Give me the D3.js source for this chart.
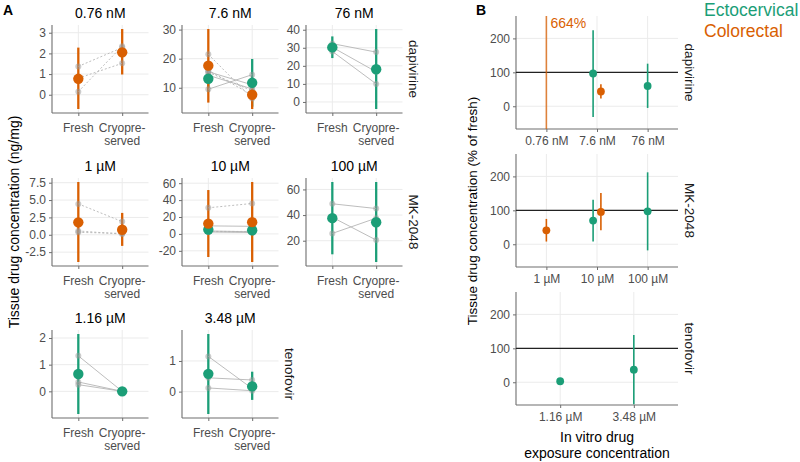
<!DOCTYPE html>
<html><head><meta charset="utf-8">
<script src="https://cdn.jsdelivr.net/npm/d3@7"></script>
<style>body{margin:0;background:#fff} svg{font-family:"Liberation Sans",Arial,Helvetica,sans-serif}</style>
</head><body><svg id="c" width="800" height="462"></svg>
<script>
// ---------- data ----------
const tissues = ["Ectocervical","Colorectal"];
const tissueColors = ["#1B9E77","#D95F02"];
const drugs = ["dapivirine","MK-2048","tenofovir"];
const concs = [["0.76 nM","7.6 nM","76 nM"],["1 µM","10 µM","100 µM"],["1.16 µM","3.48 µM"]];
const conditions = ["Fresh","Cryopreserved"];
const conditionLabels = [["Fresh"],["Cryopre-","served"]];
const aTickLabels = [
  [["0","1","2","3"],["10","20","30"],["0","10","20","30","40"]],
  [["-2.5","0.0","2.5","5.0","7.5"],["-20","0","20","40","60"],["20","40","60"]],
  [["0","1","2"],["0","1"]]
];
// individual tissue donors: drug, concentration, tissue, fresh, cryopreserved
const subjects = [
  ["dapivirine","0.76 nM","Colorectal",1.37,2.28],
  ["dapivirine","0.76 nM","Colorectal",0.15,2.35],
  ["dapivirine","0.76 nM","Colorectal",0.80,1.52],
  ["dapivirine","7.6 nM","Ectocervical",15.5,11.0],
  ["dapivirine","7.6 nM","Ectocervical",9.5,14.5],
  ["dapivirine","7.6 nM","Ectocervical",14.3,9.6],
  ["dapivirine","7.6 nM","Colorectal",21.5,6.3],
  ["dapivirine","7.6 nM","Colorectal",16.0,7.5],
  ["dapivirine","7.6 nM","Colorectal",15.3,9.0],
  ["dapivirine","76 nM","Ectocervical",32.3,27.6],
  ["dapivirine","76 nM","Ectocervical",30.3,16.7],
  ["dapivirine","76 nM","Ectocervical",28.0,10.0],
  ["MK-2048","1 µM","Colorectal",4.45,1.9],
  ["MK-2048","1 µM","Colorectal",0.55,0.1],
  ["MK-2048","1 µM","Colorectal",0.35,0.2],
  ["MK-2048","10 µM","Colorectal",30.9,36.0],
  ["MK-2048","10 µM","Colorectal",3.0,2.9],
  ["MK-2048","10 µM","Colorectal",2.7,2.7],
  ["MK-2048","10 µM","Ectocervical",9.5,9.0],
  ["MK-2048","10 µM","Ectocervical",3.5,2.5],
  ["MK-2048","10 µM","Ectocervical",2.3,1.7],
  ["MK-2048","100 µM","Ectocervical",48.8,45.1],
  ["MK-2048","100 µM","Ectocervical",25.7,37.6],
  ["MK-2048","100 µM","Ectocervical",38.3,20.5],
  ["tenofovir","1.16 µM","Ectocervical",1.33,0],
  ["tenofovir","1.16 µM","Ectocervical",0.35,0],
  ["tenofovir","1.16 µM","Ectocervical",0.25,0],
  ["tenofovir","3.48 µM","Ectocervical",1.15,0.10],
  ["tenofovir","3.48 µM","Ectocervical",0.45,0.38],
  ["tenofovir","3.48 µM","Ectocervical",0.12,0.03]
];
// group means with intervals: drug, concentration, tissue, condition, mean, lower, upper
const means = [
  ["dapivirine","0.76 nM","Colorectal","Fresh",0.77,-0.69,2.28],
  ["dapivirine","0.76 nM","Colorectal","Cryopreserved",2.05,0.98,3.18],
  ["dapivirine","7.6 nM","Ectocervical","Fresh",13.1,8.5,17.7],
  ["dapivirine","7.6 nM","Ectocervical","Cryopreserved",11.7,3.5,19.9],
  ["dapivirine","7.6 nM","Colorectal","Fresh",17.6,4.9,30.2],
  ["dapivirine","7.6 nM","Colorectal","Cryopreserved",7.6,2.7,12.4],
  ["dapivirine","76 nM","Ectocervical","Fresh",30.2,24.3,36.3],
  ["dapivirine","76 nM","Ectocervical","Cryopreserved",18.1,-3.9,40.4],
  ["MK-2048","1 µM","Colorectal","Fresh",1.79,-3.92,7.6],
  ["MK-2048","1 µM","Colorectal","Cryopreserved",0.73,-1.6,3.15],
  ["MK-2048","10 µM","Ectocervical","Fresh",5.1,-1,11],
  ["MK-2048","10 µM","Ectocervical","Cryopreserved",4.4,-2,11],
  ["MK-2048","10 µM","Colorectal","Fresh",12.2,-27.3,51.9],
  ["MK-2048","10 µM","Colorectal","Cryopreserved",13.9,-33.2,61.4],
  ["MK-2048","100 µM","Ectocervical","Fresh",37.6,9.4,65.8],
  ["MK-2048","100 µM","Ectocervical","Cryopreserved",34.4,3.4,65.8],
  ["tenofovir","1.16 µM","Ectocervical","Fresh",0.65,-0.85,2.15],
  ["tenofovir","1.16 µM","Ectocervical","Cryopreserved",0,0,0],
  ["tenofovir","3.48 µM","Ectocervical","Fresh",0.58,-0.73,1.88],
  ["tenofovir","3.48 µM","Ectocervical","Cryopreserved",0.17,-0.27,0.65]
];
// panel B: percent of fresh: drug, concentration, tissue, mean, lower, upper
const pctFresh = [
  ["dapivirine","0.76 nM","Colorectal",664,-1200,2500],
  ["dapivirine","7.6 nM","Ectocervical",96.5,-32,224],
  ["dapivirine","7.6 nM","Colorectal",43.5,23,64.6],
  ["dapivirine","76 nM","Ectocervical",59.7,-5,125.5],
  ["MK-2048","1 µM","Colorectal",41.2,8,74.7],
  ["MK-2048","10 µM","Ectocervical",69.7,8,131],
  ["MK-2048","10 µM","Colorectal",95.3,41,151],
  ["MK-2048","100 µM","Ectocervical",97,-18,212],
  ["tenofovir","1.16 µM","Ectocervical",3,3,3],
  ["tenofovir","3.48 µM","Ectocervical",37,-65,139]
];
const bTickLabels = ["0","100","200"];
const bYDomain = [-67, 266];
const bRefLine = 100;

// ---------- drawing ----------
const svg = d3.select("#c");
const color = d3.scaleOrdinal().domain(tissues).range(tissueColors);
const GRID = "#ebebeb", AXIS = "#6e6e6e", TICKTXT = "#4d4d4d";

const aColX = [52,182,306], aRowY = [25,178,330], aW = 96.5, aH = 88;

function styleAxis(g){
  g.select(".domain").remove();
  g.selectAll(".tick line").attr("stroke",AXIS).attr("stroke-width",1);
  g.selectAll(".tick text").attr("fill",TICKTXT).style("font-size","12px").style("font-family","inherit");
}

drugs.forEach((drug, r) => {
  concs[r].forEach((conc, c) => {
    const g = svg.append("g").attr("transform",`translate(${aColX[c]},${aRowY[r]})`);
    const subj = subjects.filter(d => d[0]===drug && d[1]===conc);
    const mn = means.filter(d => d[0]===drug && d[1]===conc);
    const vals = [...subj.flatMap(d=>[d[3],d[4]]), ...mn.flatMap(d=>[d[5],d[6]])];
    const [lo, hi] = d3.extent(vals);
    const pad = (hi-lo)*0.05;
    const y = d3.scaleLinear().domain([lo-pad, hi+pad]).range([aH,0]);
    const x = d3.scalePoint().domain(conditions).range([0,aW]).padding(0.6);
    const ticks = aTickLabels[r][c];
    // grid
    g.selectAll(".hg").data(ticks).join("line").attr("x1",0).attr("x2",aW)
      .attr("y1",d=>y(+d)).attr("y2",d=>y(+d)).attr("stroke",GRID).attr("stroke-width",1);
    g.selectAll(".vg").data(conditions).join("line").attr("y1",0).attr("y2",aH)
      .attr("x1",d=>x(d)).attr("x2",d=>x(d)).attr("stroke",GRID).attr("stroke-width",1);
    // axes
    const ya = g.append("g").call(d3.axisLeft(y).tickValues(ticks.map(Number)).tickSize(3).tickPadding(3)
      .tickFormat((d,i)=>ticks[i]));
    styleAxis(ya);
    const xa = g.append("g").attr("transform",`translate(0,${aH})`)
      .call(d3.axisBottom(x).tickSize(3).tickFormat(""));
    styleAxis(xa);
    conditions.forEach((cond,i)=>{
      conditionLabels[i].forEach((ln,j)=>{
        g.append("text").attr("x",x(cond)).attr("y",aH+19+j*12.5).attr("text-anchor","middle")
          .attr("fill",TICKTXT).style("font-size","12px").text(ln);
      });
    });
    g.append("line").attr("x1",0).attr("x2",0).attr("y1",0).attr("y2",aH).attr("stroke",AXIS).attr("stroke-width",1.1);
    g.append("line").attr("x1",0).attr("x2",aW).attr("y1",aH).attr("y2",aH).attr("stroke",AXIS).attr("stroke-width",1.1);
    // title
    g.append("text").attr("x",aW/2).attr("y",-7).attr("text-anchor","middle").attr("fill","#000")
      .style("font-size","14px").text(conc);
    // error bars
    tissues.forEach(t => {
      mn.filter(d=>d[2]===t).forEach(d=>{
        g.append("line").attr("x1",x(d[3])).attr("x2",x(d[3])).attr("y1",y(d[5])).attr("y2",y(d[6]))
          .attr("stroke",color(t)).attr("stroke-width",2.3);
      });
    });
    // subject lines and points
    subj.forEach(d=>{
      g.append("line").attr("x1",x("Fresh")).attr("x2",x("Cryopreserved")).attr("y1",y(d[3])).attr("y2",y(d[4]))
        .attr("stroke","#b5b5b5").attr("stroke-width",0.9)
        .attr("stroke-dasharray", d[2]==="Colorectal" ? "2,2" : null);
    });
    subj.forEach(d=>{
      [[conditions[0],d[3]],[conditions[1],d[4]]].forEach(p=>{
        g.append("circle").attr("cx",x(p[0])).attr("cy",y(p[1])).attr("r",3)
          .attr("fill","#9a9a9a").attr("opacity",0.5);
      });
    });
    // means
    tissues.forEach(t => {
      mn.filter(d=>d[2]===t).forEach(d=>{
        g.append("circle").attr("cx",x(d[3])).attr("cy",y(d[4])).attr("r",5.2).attr("fill",color(t));
      });
    });
    // strip label
    if (c === concs[r].length-1) {
      const sx = aW + 11, sy = aH/2;
      g.append("text").attr("transform",`translate(${sx},${sy}) rotate(90)`).attr("text-anchor","middle")
        .attr("dy","0.35em").attr("fill","#1a1a1a").style("font-size","13.5px").text(drug);
    }
  });
});

// A labels
svg.append("text").attr("x",3).attr("y",15).style("font-size","14px").style("font-weight","bold").text("A");
svg.append("text").attr("transform","translate(14,222) rotate(-90)").attr("text-anchor","middle")
  .attr("dy","0.35em").style("font-size","14px").text("Tissue drug concentration (ng/mg)");

// ---------- panel B ----------
const bX0 = 516, bW = 162, bRowY = [16,154,292], bH = 113;
drugs.forEach((drug, r) => {
  const g = svg.append("g").attr("transform",`translate(${bX0},${bRowY[r]})`);
  const x = d3.scalePoint().domain(concs[r]).range([0,bW]).padding(0.6);
  const y = d3.scaleLinear().domain(bYDomain).range([bH,0]);
  const clipId = "clipB"+r;
  g.append("clipPath").attr("id",clipId).append("rect").attr("x",0).attr("y",0).attr("width",bW).attr("height",bH);
  g.selectAll(".hg").data(bTickLabels).join("line").attr("x1",0).attr("x2",bW)
    .attr("y1",d=>y(+d)).attr("y2",d=>y(+d)).attr("stroke",GRID);
  g.selectAll(".vg").data(concs[r]).join("line").attr("y1",0).attr("y2",bH)
    .attr("x1",d=>x(d)).attr("x2",d=>x(d)).attr("stroke",GRID);
  const ya = g.append("g").call(d3.axisLeft(y).tickValues(bTickLabels.map(Number)).tickSize(3).tickPadding(3)
    .tickFormat((d,i)=>bTickLabels[i]));
  styleAxis(ya);
  const xa = g.append("g").attr("transform",`translate(0,${bH})`).call(d3.axisBottom(x).tickSize(3).tickPadding(4));
  styleAxis(xa);
  g.append("line").attr("x1",0).attr("x2",0).attr("y1",0).attr("y2",bH).attr("stroke",AXIS).attr("stroke-width",1.1);
  g.append("line").attr("x1",0).attr("x2",bW).attr("y1",bH).attr("y2",bH).attr("stroke",AXIS).attr("stroke-width",1.1);
  g.append("line").attr("x1",0).attr("x2",bW).attr("y1",y(bRefLine)).attr("y2",y(bRefLine))
    .attr("stroke","#222").attr("stroke-width",1.4);
  const rows = pctFresh.filter(d=>d[0]===drug);
  const plot = g.append("g").attr("clip-path",`url(#${clipId})`);
  rows.forEach(d=>{
    const n = rows.filter(e=>e[1]===d[1]).length;
    const off = n>1 ? (d[2]==="Ectocervical" ? -3.9 : 3.9) : 0;
    const cx = x(d[1]) + off;
    const offScale = d[3] > bYDomain[1];
    plot.append("line").attr("x1",cx).attr("x2",cx).attr("y1",y(d[4])).attr("y2",y(d[5]))
      .attr("stroke",color(d[2])).attr("stroke-width",1.6).attr("opacity", offScale ? 0.75 : 1);
    plot.append("circle").attr("cx",cx).attr("cy",y(d[3])).attr("r",3.9).attr("fill",color(d[2]));
    if (offScale) {
      g.append("text").attr("x",cx+4).attr("y",12).attr("fill",color(d[2])).style("font-size","14px")
        .text(d[3]+"%");
    }
  });
  g.append("text").attr("transform",`translate(${bW+12},${bH/2}) rotate(90)`).attr("text-anchor","middle")
    .attr("dy","0.35em").attr("fill","#1a1a1a").style("font-size","13.5px").text(drug);
});
svg.append("text").attr("x",476).attr("y",15).style("font-size","14px").style("font-weight","bold").text("B");
svg.append("text").attr("transform","translate(472,211) rotate(-90)").attr("text-anchor","middle")
  .attr("dy","0.35em").style("font-size","13.5px").text("Tissue drug concentration (% of fresh)");
svg.append("text").attr("x",bX0+bW/2).attr("y",442).attr("text-anchor","middle").style("font-size","14px").text("In vitro drug");
svg.append("text").attr("x",bX0+bW/2).attr("y",458).attr("text-anchor","middle").style("font-size","14px").text("exposure concentration");
// legend
tissues.forEach((t,i)=>{
  svg.append("text").attr("x",704).attr("y",16+i*21).attr("fill",color(t)).style("font-size","17.5px").text(t);
});
</script></body></html>
